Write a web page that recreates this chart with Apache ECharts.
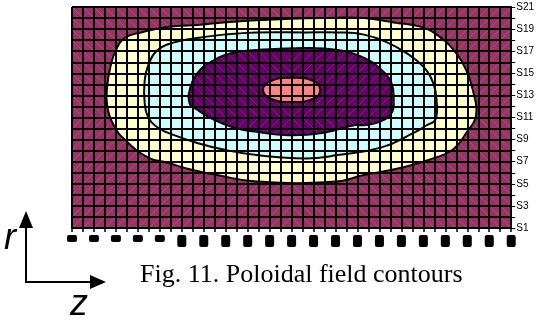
<!DOCTYPE html>
<html>
<head>
<meta charset="utf-8">
<script src="https://cdn.jsdelivr.net/npm/echarts@6.0.0/dist/echarts.min.js"></script>
<style>
html,body{margin:0;padding:0;background:#fff;}
#chart{width:537px;height:320px;}
</style>
</head>
<body>
<div id="chart"></div>
<script>
// Tick labels
const zLabels = ['1','2','3','4','5','6','7','8','9','10','11','12','13','14','15','16','17','18','19','20','21','22','23','24','25','26','27','28','29','30','31','32','33','34','35','36','37','38','39','40','41'];
const rLabels = ['S1','S2','S3','S4','S5','S6','S7','S8','S9','S10','S11','S12','S13','S14','S15','S16','S17','S18','S19','S20','S21'];

// Contour boundaries, in grid units [z index, r index]
const contourLevel1 = [[16.8,18.8],[22.8,19.0],[26.6,19.0],[29.3,18.6],[31.8,18.2],[33.5,17.3],[35.0,15.8],[35.9,14.3],[36.5,12.5],[36.8,10.2],[35.9,8.6],[34.7,7.1],[32.9,6.3],[30.2,5.5],[26.6,4.8],[24.0,4.2],[16.8,4.2],[13.2,4.8],[10.8,5.3],[8.7,5.9],[6.9,6.4],[4.8,8.0],[3.8,9.3],[3.2,11.1],[3.2,12.8],[3.5,14.6],[4.0,16.1],[4.8,17.2],[6.3,17.7],[8.7,18.2],[11.7,18.4],[13.8,18.6]];
const contourLevel2 = [[16.8,17.7],[21.3,17.7],[24.2,17.7],[26.6,17.5],[28.7,16.8],[30.5,15.8],[32.0,14.6],[32.9,13.1],[33.2,11.6],[33.1,9.8],[32.3,9.3],[31.1,8.6],[28.2,7.3],[24.2,6.6],[21.3,6.3],[16.8,6.6],[13.8,7.1],[11.4,7.7],[9.3,8.4],[7.8,9.1],[6.9,10.1],[6.6,11.6],[6.6,13.1],[6.9,14.6],[7.8,16.1],[9.3,16.8],[11.4,17.2],[13.8,17.5]];
const contourLevel3 = [[16.8,16.1],[21.3,16.3],[24.2,16.1],[26.6,15.4],[28.2,14.3],[29.1,13.1],[29.3,11.6],[29.1,10.4],[28.0,9.6],[26.6,9.3],[25.7,9.3],[22.8,8.6],[19.7,8.4],[16.8,8.7],[14.7,9.1],[12.9,9.8],[11.4,10.7],[10.7,11.3],[10.8,12.8],[11.4,14.0],[12.6,15.0],[14.4,15.8]];
const contourLevel4 = [[17.4,12.5],[18.1,13.3],[20.0,13.6],[22.0,13.3],[22.6,12.5],[22.0,11.7],[20.0,11.4],[18.1,11.7]];

const levelColors = ['#FFFFCC','#CCFFFF','#660066','#FF8080'];
const fieldColor = '#993366';

const chart = echarts.init(document.getElementById('chart'), null, {renderer:'canvas'});

function contourSeries(name, pts, color, z) {
  return {
    type: 'custom', name: name, z: z, silent: true, animation: false, clip: true,
    coordinateSystem: 'cartesian2d',
    data: [[0, 0]],
    renderItem: function (params, api) {
      return {
        type: 'polygon',
        shape: { points: pts.map(function (p) { return api.coord(p); }), smooth: 0.45 },
        style: { fill: color, stroke: '#000', lineWidth: 2 }
      };
    }
  };
}

// cells of the surface triangulation
const cells = [];
for (let i = 0; i < zLabels.length - 1; i++) {
  for (let j = 0; j < rLabels.length - 1; j++) cells.push([i, j]);
}

const option = {
  animation: false,
  backgroundColor: '#fff',
  grid: { left: 72, right: 19, top: 7, bottom: 92, show: true, backgroundColor: fieldColor, borderWidth: 0 },
  xAxis: {
    type: 'value', min: 0, max: 40, interval: 1, z: 5,
    axisLine: { show: true, onZero: false, lineStyle: { color: '#000', width: 2 } },
    axisTick: { show: true, length: 4, lineStyle: { color: '#000', width: 1.5 } },
    splitLine: { show: true, lineStyle: { color: '#000', width: 2 } },
    axisLabel: {
      show: true, margin: 7, showMinLabel: true, showMaxLabel: true,
      formatter: function (v) {
        if (v % 2 !== 0) return '';
        const t = zLabels[v];
        return t.length === 1 ? '{s|' + t + '}' : '{l|' + t + '}';
      },
      rich: {
        s: { backgroundColor: '#000', color: '#000', width: 10, height: 7, lineHeight: 7, borderRadius: 2, fontSize: 5 },
        l: { backgroundColor: '#000', color: '#000', width: 9, height: 12, lineHeight: 12, borderRadius: 2, fontSize: 8 }
      },
      verticalAlign: 'top'
    }
  },
  yAxis: {
    type: 'value', position: 'right', min: 0, max: 20, interval: 1, z: 5,
    axisLine: { show: true, onZero: false, lineStyle: { color: '#000', width: 2 } },
    axisTick: { show: true, length: 4, lineStyle: { color: '#000', width: 1 } },
    splitLine: { show: true, lineStyle: { color: '#000', width: 2 } },
    axisLabel: {
      show: true, margin: 5, showMinLabel: true, showMaxLabel: true,
      color: '#000', fontFamily: 'Liberation Sans', fontSize: 10,
      formatter: function (v) { return v % 2 === 0 ? rLabels[v] : ''; }
    }
  },
  series: [
    contourSeries('level1', contourLevel1, levelColors[0], 2),
    contourSeries('level2', contourLevel2, levelColors[1], 2.1),
    contourSeries('level3', contourLevel3, levelColors[2], 2.2),
    contourSeries('level4', contourLevel4, levelColors[3], 2.3),
    {
      type: 'custom', name: 'mesh', z: 3, silent: true, animation: false,
      coordinateSystem: 'cartesian2d', data: cells,
      renderItem: function (params, api) {
        const i = api.value(0), j = api.value(1);
        const top = j >= 10, left = i < 20;
        let a, b;
        if (left === top) { a = api.coord([i, j + 1]); b = api.coord([i + 1, j]); }
        else { a = api.coord([i, j]); b = api.coord([i + 1, j + 1]); }
        return { type: 'line', shape: { x1: a[0], y1: a[1], x2: b[0], y2: b[1] },
                 style: { stroke: 'rgba(255,255,255,0.15)', lineWidth: 1 } };
      }
    }
  ],
  graphic: [
    { type: 'line', shape: { x1: 26, y1: 226, x2: 26, y2: 283 }, style: { stroke: '#000', lineWidth: 2 } },
    { type: 'polygon', shape: { points: [[26, 211], [19, 228], [33, 228]] }, style: { fill: '#000' } },
    { type: 'line', shape: { x1: 25, y1: 282, x2: 92, y2: 282 }, style: { stroke: '#000', lineWidth: 2 } },
    { type: 'polygon', shape: { points: [[106, 282], [90, 275], [90, 289]] }, style: { fill: '#000' } },
    { type: 'text', x: 4, y: 239, style: { text: 'r', fill: '#000', font: 'italic 36px "Liberation Sans"', textAlign: 'left', textVerticalAlign: 'middle' } },
    { type: 'text', x: 70, y: 305, style: { text: 'z', fill: '#000', font: 'italic 36px "Liberation Sans"', textAlign: 'left', textVerticalAlign: 'middle' } },
    { type: 'text', x: 140, y: 275, style: { text: 'Fig. 11. Poloidal field contours', fill: '#000', font: '26px "Liberation Serif"', textAlign: 'left', textVerticalAlign: 'middle' } }
  ]
};
chart.setOption(option);
</script>
</body>
</html>
